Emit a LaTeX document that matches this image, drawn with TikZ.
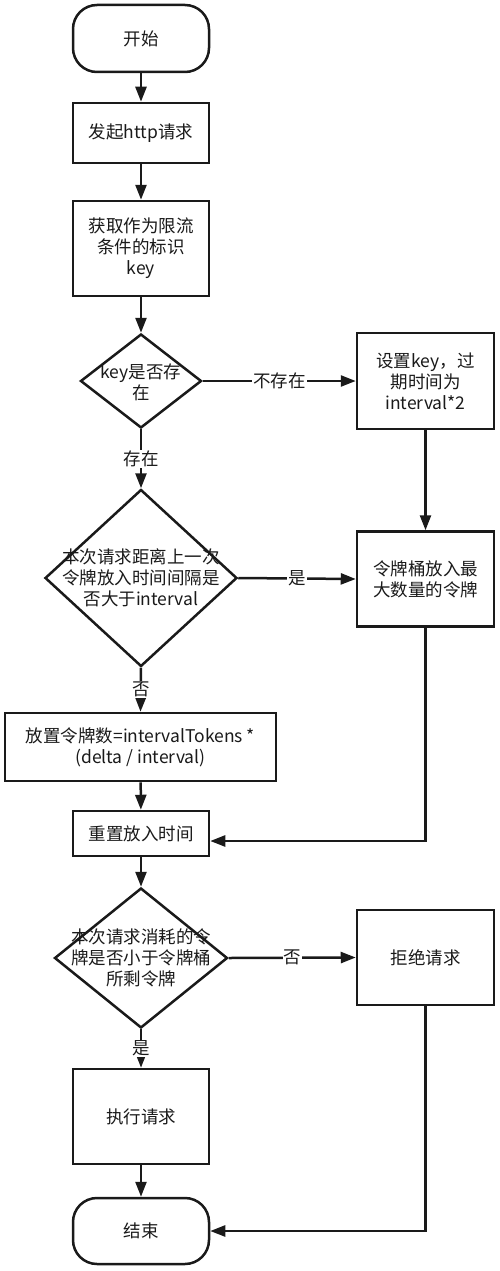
\documentclass[tikz,border=0pt]{standalone}
\usepackage{fontspec}
\setmainfont{Noto Sans CJK SC}
\usetikzlibrary{shapes.geometric,arrows.meta}
\definecolor{ink}{HTML}{1A1A1A}
\begin{document}
\begin{tikzpicture}[x=1pt,y=-1pt,
  every node/.style={font=\fontsize{17.5}{21}\selectfont, text=ink},
  procbox/.style={draw=ink, line width=2.5pt, rectangle, inner sep=0pt, align=center},
  termbox/.style={draw=ink, line width=2.5pt, rectangle, rounded corners=24pt, inner sep=0pt, align=center},
  decbox/.style={draw=ink, line width=2.5pt, diamond, inner sep=0pt},
  flow/.style={draw=ink, line width=2.5pt, -{Triangle[length=15pt,width=11pt]}},
  lbl/.style={fill=white, inner sep=1pt}
]
\useasboundingbox[fill=white] (0,0) rectangle (500,1271);

% nodes
\node[termbox, minimum width=136pt, minimum height=67pt] (start) at (141,38.5) {开始};
\node[procbox, minimum width=136pt, minimum height=60pt] (http) at (141,133) {发起http请求};
\node[procbox, minimum width=136pt, minimum height=95pt] (key) at (141,248.5) {获取作为限流\\条件的标识\\key};
\node[decbox, minimum width=121pt, minimum height=94pt] (d1) at (141,381) {};
\node[align=center] (d1t) at (141,382) {key是否存\\在};
\node[procbox, minimum width=137pt, minimum height=96pt] (set) at (425.5,381) {设置key，过\\期时间为\\interval*2};
\node[decbox, minimum width=192pt, minimum height=177pt] (d2) at (141,578) {};
\node[align=center] (d2t) at (141,578) {本次请求距离上一次\\令牌放入时间间隔是\\否大于interval};
\node[procbox, minimum width=137pt, minimum height=95pt] (fill) at (425.5,579) {令牌桶放入最\\大数量的令牌};
\node[procbox, minimum width=271pt, minimum height=68pt] (put) at (140.5,747) {放置令牌数=intervalTokens *\\(delta / interval)};
\node[procbox, minimum width=136pt, minimum height=45pt] (reset) at (141,833.5) {重置放入时间};
\node[decbox, minimum width=173pt, minimum height=140pt] (d3) at (141,958) {};
\node[align=center] (d3t) at (141,958) {本次请求消耗的令\\牌是否小于令牌桶\\所剩令牌};
\node[procbox, minimum width=137pt, minimum height=95pt] (reject) at (425.5,957.5) {拒绝请求};
\node[procbox, minimum width=136pt, minimum height=95pt] (exec) at (141,1116.5) {执行请求};
\node[termbox, minimum width=136pt, minimum height=66pt] (end) at (141,1231) {结束};

% connectors
\draw[flow] (start) -- (http);
\draw[flow] (http) -- (key);
\draw[flow] (key) -- (d1.north);
\draw[flow] (d1.east) -- node[lbl] (l1) {不存在} (set.west);
\draw[flow] (d1.south) -- node[lbl] (l2) {存在} (d2.north);
\draw[flow] (set) -- (fill);
\draw[flow] (d2.east) -- node[lbl] (l3) {是} (fill.west);
\draw[flow] (d2.south) -- node[lbl] (l4) {否} (put.north);
\draw[flow] (put) -- (reset);
\draw[flow] (fill.south) |- ([yshift=-7.5pt]reset.east);
\draw[flow] (reset) -- (d3.north);
\draw[flow] (d3.east) -- node[lbl] (l5) {否} (reject.west);
\draw[flow] (d3.south) -- node[lbl] (l6) {是} (exec.north);
\draw[flow] (exec) -- (end);
\draw[flow] (reject.south) |- (end.east);
\end{tikzpicture}
\end{document}
